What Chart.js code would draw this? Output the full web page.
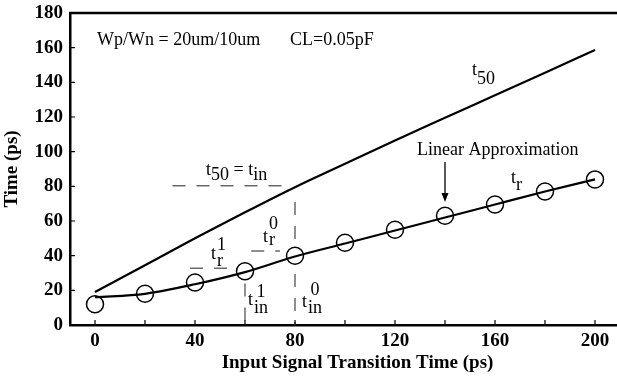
<!DOCTYPE html>
<html>
<head>
<meta charset="utf-8">
<script src="https://cdn.jsdelivr.net/npm/chart.js@4.4.1/dist/chart.umd.min.js"></script>
<style>
  html, body { margin: 0; padding: 0; background: #fff; }
  #wrap { width: 617px; height: 377px; }
</style>
</head>
<body>
<div id="wrap"><canvas id="myChart"></canvas></div>
<script>
// input transition time (ps)
const inputTimes = [0, 20, 40, 60, 80, 100, 120, 140, 160, 180, 200];
// simulated rise time t_r (circles)
const trMeasured = [12, 18, 24.5, 31, 40, 47.5, 55, 63, 69.5, 77, 84];
// fitted rise time curve
const trFit = [16, 18, 23.5, 30.5, 39.5, 47, 54.5, 62, 69.5, 77, 84];
// 50% delay t_50
const t50 = [19, 34.5, 50, 65, 79.5, 93, 106.5, 119.5, 132.5, 145.5, 158.7];

const xTickValues = [0, 20, 40, 60, 80, 100, 120, 140, 160, 180, 200];
const yTickValues = [0, 20, 40, 60, 80, 100, 120, 140, 160, 180];

// dashed guide lines
const guideT50 = [{x: 31, y: 80.3}, {x: 76, y: 80.3}];
const guideTr1 = [{x: 38, y: 32.7}, {x: 53.5, y: 32.7}];
const guideTr0 = [{x: 62.5, y: 42.7}, {x: 74, y: 42.7}];
const guideTin1 = [{x: 60, y: 24}, {x: 60, y: 0}];
const guideTin0 = [{x: 80, y: 71}, {x: 80, y: 0}];

function pts(xs, ys) {
  return xs.map((x, i) => ({x: x, y: ys[i]}));
}

const serif = '"Liberation Serif", "Times New Roman", serif';

// labels: t with subscript / superscript, placed in data units
const tLabels = [
  {x: 150.8, y: 144.2, parts: [{t: 't'}, {t: '50', dy: 9}]},
  {x: 44.4, y: 86.5, parts: [{t: 't'}, {t: '50', dy: 5}, {t: ' = t'}, {t: 'in', dy: 5}]},
  {x: 46.4, y: 38.1, sub: 'r', sup: '1', subDy: 7, supDy: -9},
  {x: 67.2, y: 47.9, sub: 'r', sup: '0', subDy: 3, supDy: -13},
  {x: 61.2, y: 11.5, sub: 'in', sup: '1', subDy: 8, supDy: -8},
  {x: 82.8, y: 10.4, sub: 'in', sup: '0', subDy: 6, supDy: -12},
  {x: 166.4, y: 81.9, parts: [{t: 't'}, {t: 'r', dy: 7}]}
];

const plainLabels = [
  {x: 0.8, y: 161.5, text: 'Wp/Wn = 20um/10um'},
  {x: 78, y: 161.5, text: 'CL=0.05pF'},
  {x: 128.8, y: 98.1, text: 'Linear Approximation'}
];

const arrow = {x: 140, from: 94, to: 71};

const decor = {
  id: 'decor',
  afterDraw(chart) {
    const ctx = chart.ctx;
    const xs = chart.scales.x, ys = chart.scales.y;
    const area = chart.chartArea;
    ctx.save();

    // top frame line
    ctx.strokeStyle = '#000';
    ctx.lineWidth = 2.5;
    ctx.beginPath();
    ctx.moveTo(area.left - 1, area.top);
    ctx.lineTo(area.right, area.top);
    ctx.stroke();

    // inward tick marks
    ctx.lineWidth = 1.2;
    ctx.beginPath();
    xTickValues.forEach(v => {
      const px = xs.getPixelForValue(v);
      ctx.moveTo(px, area.bottom);
      ctx.lineTo(px, area.bottom - 5);
    });
    yTickValues.forEach(v => {
      const py = ys.getPixelForValue(v);
      ctx.moveTo(area.left, py);
      ctx.lineTo(area.left + 5, py);
    });
    ctx.stroke();

    // plain text
    const txt = '18px ' + serif;
    ctx.fillStyle = '#000';
    ctx.textBaseline = 'alphabetic';
    ctx.textAlign = 'left';
    ctx.font = txt;
    plainLabels.forEach(l => {
      ctx.fillText(l.text, xs.getPixelForValue(l.x), ys.getPixelForValue(l.y));
    });

    // t labels
    tLabels.forEach(l => {
      let px = xs.getPixelForValue(l.x);
      const py = ys.getPixelForValue(l.y);
      ctx.font = txt;
      if (l.parts) {
        l.parts.forEach(p => {
          ctx.fillText(p.t, px, py + (p.dy || 0));
          px += ctx.measureText(p.t).width;
        });
      } else {
        ctx.fillText('t', px, py);
        px += ctx.measureText('t').width + 1;
        const wSub = ctx.measureText(l.sub).width;
        const wSup = ctx.measureText(l.sup).width;
        ctx.fillText(l.sub, px, py + l.subDy);
        ctx.fillText(l.sup, px + Math.max(0, (wSub - wSup) / 2), py + l.supDy);
      }
    });

    // arrow
    const ax = xs.getPixelForValue(arrow.x);
    const ay0 = ys.getPixelForValue(arrow.from);
    const ay1 = ys.getPixelForValue(arrow.to);
    ctx.lineWidth = 1.3;
    ctx.beginPath();
    ctx.moveTo(ax, ay0);
    ctx.lineTo(ax, ay1 - 6);
    ctx.stroke();
    ctx.beginPath();
    ctx.moveTo(ax, ay1);
    ctx.lineTo(ax - 3.5, ay1 - 9);
    ctx.lineTo(ax + 3.5, ay1 - 9);
    ctx.closePath();
    ctx.fill();

    // x axis title
    ctx.font = 'bold 19px ' + serif;
    ctx.textAlign = 'center';
    ctx.textBaseline = 'middle';
    ctx.fillText('Input Signal Transition Time (ps)', xs.getPixelForValue(105), chart.height - 14);

    ctx.restore();
  }
};

const dashed = {
  showLine: true,
  borderColor: '#6a6a6a',
  borderWidth: 1.5,
  borderDash: [13, 11],
  pointRadius: 0,
  order: 5
};

const data = {
  datasets: [
    {label: 't50', data: pts(inputTimes, t50), showLine: true, borderColor: '#000',
      borderWidth: 2.2, pointRadius: 0, cubicInterpolationMode: 'monotone', order: 0},
    {label: 'tr fit', data: pts(inputTimes, trFit), showLine: true, borderColor: '#000',
      borderWidth: 2.2, pointRadius: 0, cubicInterpolationMode: 'monotone', order: 0},
    {label: 'tr', data: pts(inputTimes, trMeasured), showLine: false, borderColor: '#000',
      backgroundColor: '#fff', borderWidth: 1.5, pointRadius: 8.5, pointStyle: 'circle', order: 2},
    Object.assign({label: 'g1', data: guideT50}, dashed),
    Object.assign({label: 'g2', data: guideTr1}, dashed),
    Object.assign({label: 'g3', data: guideTr0}, dashed),
    Object.assign({label: 'g4', data: guideTin1}, dashed),
    Object.assign({label: 'g5', data: guideTin0}, dashed)
  ]
};

const tickFont = {family: serif, size: 19, weight: 'bold'};

const config = {
  type: 'scatter',
  data: data,
  options: {
    responsive: true,
    maintainAspectRatio: false,
    animation: false,
    layout: {autoPadding: false, padding: {top: 13, right: 0, left: 0, bottom: 0}},
    plugins: {legend: {display: false}, tooltip: {enabled: false}},
    scales: {
      x: {
        type: 'linear',
        min: -10,
        max: 208.8,
        grid: {display: false, drawTicks: false},
        border: {display: true, color: '#000', width: 2.5},
        afterBuildTicks: axis => { axis.ticks = xTickValues.map(v => ({value: v})); },
        afterFit: scale => {
          scale.height = 52;
          scale.paddingLeft = 0;
          scale.paddingRight = 0;
        },
        ticks: {
          padding: 5,
          color: '#000',
          font: tickFont,
          callback: v => (v % 40 === 0 ? String(v) : '')
        }
      },
      y: {
        type: 'linear',
        min: 0,
        max: 180,
        grid: {display: false, drawTicks: false},
        border: {display: true, color: '#000', width: 2.5},
        afterBuildTicks: axis => { axis.ticks = yTickValues.map(v => ({value: v})); },
        afterFit: scale => {
          scale.width = 70;
          scale.paddingTop = 0;
          scale.paddingBottom = 0;
        },
        ticks: {
          padding: 7,
          color: '#000',
          font: tickFont
        },
        title: {
          display: true,
          text: 'Time (ps)',
          color: '#000',
          padding: {top: 1, bottom: 0},
          font: {family: serif, size: 19, weight: 'bold'}
        }
      }
    }
  },
  plugins: [decor]
};

var ctx = document.getElementById('myChart');
var newmychart = new Chart(ctx, config);
</script>
</body>
</html>
